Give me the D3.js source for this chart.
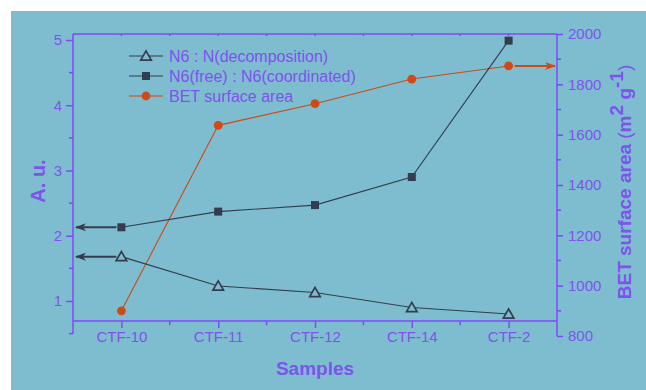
<!DOCTYPE html>
<html>
<head>
<meta charset="utf-8">
<script src="https://cdn.jsdelivr.net/npm/d3@7"></script>
<style>
  body { margin: 0; background: #ffffff; }
  svg { display: block; font-family: "Liberation Sans", Arial, sans-serif; }
</style>
</head>
<body>
<div id="chart"></div>
<script>
// data
var samples = ["CTF-10", "CTF-11", "CTF-12", "CTF-14", "CTF-2"];
var ratioDecomp = [1.68, 1.23, 1.13, 0.90, 0.80];   // N6 : N(decomposition)
var ratioFree = [2.13, 2.37, 2.47, 2.90, 4.99];     // N6(free) : N6(coordinated)
var betArea = [900, 1637, 1723, 1821, 1873];        // BET surface area
var leftTicks = [1, 2, 3, 4, 5];
var rightTicks = [800, 1000, 1200, 1400, 1600, 1800, 2000];
var legendNames = ["N6 : N(decomposition)", "N6(free) : N6(coordinated)", "BET surface area"];

var colors = {
    bg: "#7dbdcf",
    axis: "#7b4cf6",
    text: "#8052ee",
    dark: "#333d4f",
    orange: "#cf4a14"
};

var W = 646, H = 390;
var m = { left: 73, right: 557, top: 34, bottom: 321 };

var svg = d3.select("#chart").append("svg")
    .attr("width", W)
    .attr("height", H);

// blue panel
svg.append("rect")
    .attr("x", 11).attr("y", 11)
    .attr("width", W - 11).attr("height", H - 11)
    .attr("fill", colors.bg);

var x = d3.scalePoint().domain(samples).range([m.left, m.right]).padding(0.5);
var yL = d3.scaleLinear().domain([1, 5]).range([301, 40]);
var yR = d3.scaleLinear().domain([800, 2000]).range([336, 34]);

// frame (top)
svg.append("line")
    .attr("x1", m.left).attr("x2", m.right)
    .attr("y1", m.top).attr("y2", m.top)
    .attr("stroke", colors.axis).attr("stroke-width", 1.5);

// bottom axis
var xAxis = svg.append("g")
    .attr("transform", "translate(0," + m.bottom + ")")
    .call(d3.axisBottom(x).tickSize(7).tickPadding(3));
xAxis.select(".domain").attr("d", "M" + m.left + ",0H" + m.right)
    .attr("stroke", colors.axis).attr("stroke-width", 1.5);
xAxis.selectAll(".tick line").attr("stroke", colors.axis).attr("stroke-width", 1.5);
xAxis.selectAll(".tick text").attr("fill", colors.text).style("font-size", "15px");

// minor ticks between categories, plus small inward ticks on top
var step = x.step();
var mids = samples.slice(0, -1).map(function (s) { return x(s) + step / 2; });
svg.selectAll(".xminor").data(mids).enter().append("line")
    .attr("x1", function (d) { return d; }).attr("x2", function (d) { return d; })
    .attr("y1", m.bottom).attr("y2", m.bottom + 4)
    .attr("stroke", colors.axis).attr("stroke-width", 1.5);
svg.selectAll(".xtop").data(samples.map(x).concat(mids)).enter().append("line")
    .attr("x1", function (d) { return d; }).attr("x2", function (d) { return d; })
    .attr("y1", m.top).attr("y2", m.top + 2)
    .attr("stroke", colors.axis).attr("stroke-width", 1.5);

// left axis
var leftAxis = svg.append("g")
    .attr("transform", "translate(" + m.left + ",0)")
    .call(d3.axisLeft(yL).tickValues(leftTicks).tickFormat(d3.format("d")).tickSize(7).tickPadding(4));
leftAxis.select(".domain").attr("d", "M0," + m.top + "V" + yL(0.5))
    .attr("stroke", colors.axis).attr("stroke-width", 1.5);
leftAxis.selectAll(".tick line").attr("stroke", colors.axis).attr("stroke-width", 1.5);
leftAxis.selectAll(".tick text").attr("fill", colors.text).style("font-size", "15px");
svg.selectAll(".lminor").data([0.5, 1.5, 2.5, 3.5, 4.5]).enter().append("line")
    .attr("x1", m.left - 4).attr("x2", m.left)
    .attr("y1", function (d) { return yL(d); }).attr("y2", function (d) { return yL(d); })
    .attr("stroke", colors.axis).attr("stroke-width", 1.5);

// right axis
var rightAxis = svg.append("g")
    .attr("transform", "translate(" + m.right + ",0)")
    .call(d3.axisRight(yR).tickValues(rightTicks).tickFormat(d3.format("d")).tickSize(6).tickPadding(5));
rightAxis.select(".domain").attr("d", "M0," + m.top + "V" + yR(800))
    .attr("stroke", colors.axis).attr("stroke-width", 1.5);
rightAxis.selectAll(".tick line").attr("stroke", colors.axis).attr("stroke-width", 1.5);
rightAxis.selectAll(".tick text").attr("fill", colors.text).style("font-size", "15px");
svg.selectAll(".rminor").data([900, 1100, 1300, 1500, 1700, 1900]).enter().append("line")
    .attr("x1", m.right).attr("x2", m.right + 4)
    .attr("y1", function (d) { return yR(d); }).attr("y2", function (d) { return yR(d); })
    .attr("stroke", colors.axis).attr("stroke-width", 1.5);

// axis titles
svg.append("text")
    .attr("transform", "translate(45,181) rotate(-90)")
    .attr("text-anchor", "middle")
    .attr("fill", colors.text)
    .style("font-size", "20px").style("font-weight", "bold")
    .text("A. u.");

svg.append("text")
    .attr("x", (m.left + m.right) / 2).attr("y", 375)
    .attr("text-anchor", "middle")
    .attr("fill", colors.text)
    .style("font-size", "19px").style("font-weight", "bold")
    .text("Samples");

var rt = svg.append("text")
    .attr("transform", "translate(631,182) rotate(-90)")
    .attr("text-anchor", "middle")
    .attr("fill", colors.text)
    .style("font-size", "19px").style("font-weight", "bold");
rt.append("tspan").text("BET surface area ");
rt.append("tspan").style("font-weight", "normal").text("(");
rt.append("tspan").text("m");
rt.append("tspan").attr("dy", -8).style("font-size", "19px").text("2");
rt.append("tspan").attr("dy", 8).text(" g");
rt.append("tspan").attr("dy", -8).style("font-size", "19px").text("-1");
rt.append("tspan").attr("dy", 8).style("font-weight", "normal").text(")");

// arrowheads
var defs = svg.append("defs");
[["arrowDark", colors.dark], ["arrowOrange", colors.orange]].forEach(function (a) {
    defs.append("marker")
        .attr("id", a[0])
        .attr("viewBox", "0 0 11 8")
        .attr("refX", 10).attr("refY", 4)
        .attr("markerUnits", "userSpaceOnUse")
        .attr("markerWidth", 11).attr("markerHeight", 8)
        .attr("orient", "auto")
        .append("path")
        .attr("d", "M0,0L11,4L0,8L3,4Z")
        .attr("fill", a[1]);
});

// arrows to axes
var x0 = x(samples[0]), xN = x(samples[samples.length - 1]);
svg.append("line")
    .attr("x1", x0 - 5).attr("x2", m.left + 3)
    .attr("y1", yL(ratioFree[0])).attr("y2", yL(ratioFree[0]))
    .attr("stroke", colors.dark).attr("stroke-width", 2)
    .attr("marker-end", "url(#arrowDark)");
svg.append("line")
    .attr("x1", x0 - 5).attr("x2", m.left + 3)
    .attr("y1", yL(ratioDecomp[0])).attr("y2", yL(ratioDecomp[0]))
    .attr("stroke", colors.dark).attr("stroke-width", 2)
    .attr("marker-end", "url(#arrowDark)");
svg.append("line")
    .attr("x1", xN + 6).attr("x2", m.right - 2)
    .attr("y1", yR(betArea[4])).attr("y2", yR(betArea[4]))
    .attr("stroke", colors.orange).attr("stroke-width", 2)
    .attr("marker-end", "url(#arrowOrange)");

// series lines
var lineL = d3.line().x(function (d, i) { return x(samples[i]); }).y(function (d) { return yL(d); });
var lineR = d3.line().x(function (d, i) { return x(samples[i]); }).y(function (d) { return yR(d); });

svg.append("path").datum(betArea).attr("d", lineR)
    .attr("fill", "none").attr("stroke", colors.orange).attr("stroke-width", 1.1);
svg.append("path").datum(ratioFree).attr("d", lineL)
    .attr("fill", "none").attr("stroke", colors.dark).attr("stroke-width", 1.1);
svg.append("path").datum(ratioDecomp).attr("d", lineL)
    .attr("fill", "none").attr("stroke", colors.dark).attr("stroke-width", 1.1);

var triSym = d3.symbol().type(d3.symbolTriangle).size(48);

function drawTriangle(sel) {
    sel.attr("d", triSym)
        .attr("fill", colors.bg).attr("stroke", colors.dark).attr("stroke-width", 1.7);
}
function drawSquare(sel) {
    sel.attr("x", -4).attr("y", -4).attr("width", 8).attr("height", 8)
        .attr("fill", colors.dark);
}
function drawCircle(sel) {
    sel.attr("r", 4.4).attr("fill", colors.orange);
}

svg.selectAll(".tri").data(ratioDecomp).enter().append("path")
    .attr("transform", function (d, i) { return "translate(" + x(samples[i]) + "," + (yL(d) + 1) + ")"; })
    .call(drawTriangle);
svg.selectAll(".sq").data(ratioFree).enter().append("g")
    .attr("transform", function (d, i) { return "translate(" + x(samples[i]) + "," + yL(d) + ")"; })
    .append("rect").call(drawSquare);
svg.selectAll(".dot").data(betArea).enter().append("circle")
    .attr("cx", function (d, i) { return x(samples[i]); })
    .attr("cy", function (d) { return yR(d); })
    .call(drawCircle);

// legend
var legend = svg.append("g").attr("transform", "translate(129,56)");
var rows = legend.selectAll("g").data(legendNames).enter().append("g")
    .attr("transform", function (d, i) { return "translate(0," + (i * 20) + ")"; });
rows.append("line")
    .attr("x1", 0).attr("x2", 34)
    .attr("stroke", function (d, i) { return i === 2 ? colors.orange : colors.dark; })
    .attr("stroke-width", 1.1);
rows.each(function (d, i) {
    var g = d3.select(this).append("g").attr("transform", "translate(17," + (i === 0 ? 1 : 0) + ")");
    if (i === 0) g.append("path").call(drawTriangle);
    else if (i === 1) g.append("rect").call(drawSquare);
    else g.append("circle").call(drawCircle);
});
rows.append("text")
    .attr("x", 40).attr("y", 6)
    .attr("fill", colors.text)
    .style("font-size", "16px")
    .text(function (d) { return d; });
</script>
</body>
</html>
